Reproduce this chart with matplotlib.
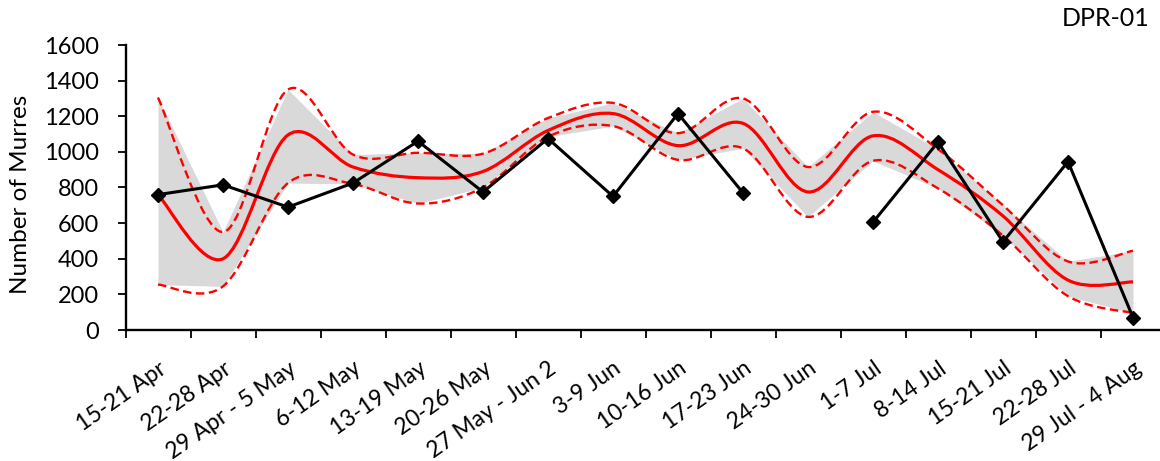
import numpy as np
import matplotlib
matplotlib.use("Agg")
import matplotlib.pyplot as plt
from matplotlib.path import Path
from matplotlib.patches import PathPatch
from matplotlib.transforms import ScaledTranslation

weeks = ["15-21 Apr", "22-28 Apr", "29 Apr - 5 May", "6-12 May", "13-19 May",
         "20-26 May", "27 May - Jun 2", "3-9 Jun", "10-16 Jun", "17-23 Jun",
         "24-30 Jun", "1-7 Jul", "8-14 Jul", "15-21 Jul", "22-28 Jul",
         "29 Jul - 4 Aug"]
counts = [760, 815, 690, 825, 1060, 775, 1075, 750, 1215, 770, np.nan,
          605, 1055, 495, 945, 70]
model_mean = [760, 400, 1095, 915, 855, 890, 1120, 1215, 1035, 1160, 775,
              1090, 900, 640, 280, 270]
model_upper = [1305, 550, 1350, 985, 995, 990, 1190, 1275, 1105, 1300, 915,
               1225, 1015, 700, 385, 445]
model_lower = [255, 245, 825, 820, 710, 800, 1085, 1145, 955, 1020, 635,
               950, 795, 530, 190, 95]
site = "DPR-01"

FONT = ["Lato", "DejaVu Sans"]
plt.rcParams["font.family"] = FONT


def smooth_path(xs, ys):
    """Cubic Bezier path through every point (spreadsheet-style smoothing)."""
    pts = np.column_stack([xs, ys]).astype(float)
    n = len(pts)
    verts = [pts[0]]
    codes = [Path.MOVETO]
    for i in range(n - 1):
        p_prev = pts[max(i - 1, 0)]
        p0, p1 = pts[i], pts[i + 1]
        p_next = pts[min(i + 2, n - 1)]
        c1 = p0 + (p1 - p_prev) / 6.0
        c2 = p1 - (p_next - p0) / 6.0
        verts += [c1, c2, p1]
        codes += [Path.CURVE4] * 3
    return Path(verts, codes)


W, H = 1160, 461
fig = plt.figure(figsize=(W / 100, H / 100), dpi=100)
left_px, right_px, top_px, bottom_px = 125.5, 1165.5, 45, 330
ax = fig.add_axes([left_px / W, 1 - bottom_px / H,
                   (right_px - left_px) / W, (bottom_px - top_px) / H])

x = np.arange(len(weeks))

ax.fill_between(x, model_lower, model_upper, color="#d9d9d9", lw=0, zorder=1)

dash = (0, (3.6, 1.9))
ax.add_patch(PathPatch(smooth_path(x, model_upper), fill=False,
                       edgecolor="#ff0000", lw=1.7, ls=dash, zorder=2))
ax.add_patch(PathPatch(smooth_path(x, model_lower), fill=False,
                       edgecolor="#ff0000", lw=1.7, ls=dash, zorder=2))
ax.add_patch(PathPatch(smooth_path(x, model_mean), fill=False,
                       edgecolor="#ff0000", lw=2.3, zorder=3))

ax.plot(x, counts, color="black", lw=2.2, marker="D", markersize=7,
        markerfacecolor="black", markeredgecolor="black", zorder=4)

ax.set_xlim(-0.5, len(weeks) - 0.5)
ax.set_ylim(0, 1600)
ax.set_yticks(np.arange(0, 1601, 200))
ax.set_xticks(x)
ax.set_xticklabels(weeks, rotation=35, ha="right", rotation_mode="anchor",
                   fontsize=16.5)
shift = ScaledTranslation(4 / 100, 0, fig.dpi_scale_trans)
for lbl in ax.get_xticklabels():
    lbl.set_transform(lbl.get_transform() + shift)
ax.set_xticks(np.arange(-0.5, len(weeks), 1.0), minor=True)
ax.tick_params(axis="x", which="major", length=0, pad=20)
ax.tick_params(axis="x", which="minor", length=6, width=1.3, direction="out")
ax.tick_params(axis="y", length=6, width=1.3, direction="out",
               labelsize=17, pad=13)

for side in ("top", "right"):
    ax.spines[side].set_visible(False)
for side in ("left", "bottom"):
    ax.spines[side].set_linewidth(1.7)
    ax.spines[side].set_color("black")

fig.text(21 / W, 1 - 194 / H, "Number of Murres", rotation=90,
         ha="center", va="center", fontsize=17.5)
fig.text(1150 / W, 1 - 19 / H, site, ha="right", va="center", fontsize=18)

fig.savefig("out.png", dpi=100)
